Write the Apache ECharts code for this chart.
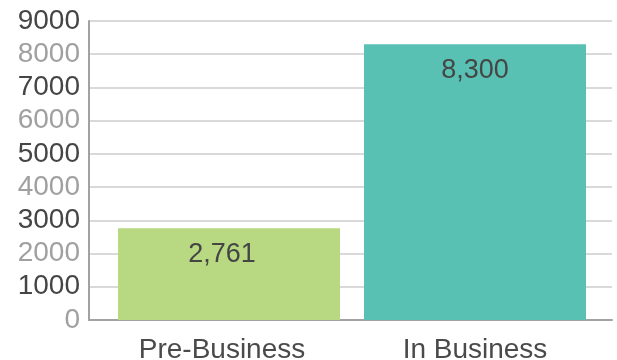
<!DOCTYPE html>
<html>
<head>
<meta charset="utf-8">
<script src="https://cdn.jsdelivr.net/npm/echarts@6/dist/echarts.min.js"></script>
<style>
  html, body { margin: 0; padding: 0; background: #fff; }
  #chart { width: 617px; height: 360px; }
</style>
</head>
<body>
<div id="chart"></div>
<script>
const categories = ['Pre-Business', 'In Business']
const values = [2761, 8300]
const barColors = ['#b8d882', '#58c1b4']
const yMax = 9000
const yStep = 1000

const font = '"Liberation Sans", Helvetica, Arial, sans-serif'

const chart = echarts.init(document.getElementById('chart'))

// the first bar's texts sit a little left of its centre in the original
const labelShift = [-7, 0]

const option = {
  animation: false,
  grid: [
    // frame: y labels, grid lines, axis lines
    { left: 89, right: 5, top: 21, bottom: 40, outerBoundsMode: 'none' },
    // bars sit a bit inside the frame
    { left: 106, right: 19, top: 21, bottom: 40, outerBoundsMode: 'none' },
  ],
  xAxis: [
    {
      type: 'category',
      gridIndex: 0,
      data: categories,
      axisLine: { lineStyle: { color: '#a2a2a6', width: 2 } },
      axisTick: { show: false },
      axisLabel: { show: false },
    },
    {
      type: 'category',
      gridIndex: 1,
      data: categories,
      axisLine: { show: false },
      axisTick: { show: false },
      axisLabel: {
        interval: 0,
        hideOverlap: false,
        margin: 16,
        fontSize: 28,
        fontFamily: font,
        color: '#4a4a4a',
        formatter: (v, i) => (i === 0 ? '{a|' + v + '}' : '{b|' + v + '}'),
        rich: {
          a: { fontSize: 28, fontFamily: font, color: '#4a4a4a', padding: [0, 14, 0, 0] },
          b: { fontSize: 28, fontFamily: font, color: '#4a4a4a' },
        },
      },
    },
  ],
  yAxis: [
    {
      type: 'value',
      gridIndex: 0,
      min: 0,
      max: yMax,
      interval: yStep,
      axisLine: { show: true, lineStyle: { color: '#a2a2a6', width: 2 } },
      axisTick: { show: false },
      splitLine: { lineStyle: { color: '#d9d9d9', width: 2 } },
      axisLabel: {
        margin: 9,
        formatter: v => ((v / yStep) % 2 ? '{d|' + v + '}' : '{g|' + v + '}'),
        rich: {
          d: { fontSize: 28, fontFamily: font, color: '#454545' },
          g: { fontSize: 28, fontFamily: font, color: '#a0a0a0' },
        },
      },
    },
    {
      type: 'value',
      gridIndex: 1,
      min: 0,
      max: yMax,
      interval: yStep,
      show: false,
      splitLine: { show: false },
    },
  ],
  series: [
    {
      type: 'bar',
      xAxisIndex: 1,
      yAxisIndex: 1,
      barWidth: 222,
      data: values.map((v, i) => ({
        value: v,
        itemStyle: { color: barColors[i] },
        label: i === 0 ? { offset: labelShift } : {},
      })),
      label: {
        show: true,
        position: 'insideTop',
        distance: 13,
        fontSize: 27,
        fontFamily: font,
        color: '#454545',
        formatter: p => p.value.toLocaleString('en-US'),
      },
    },
  ],
}

chart.setOption(option)
</script>
</body>
</html>
